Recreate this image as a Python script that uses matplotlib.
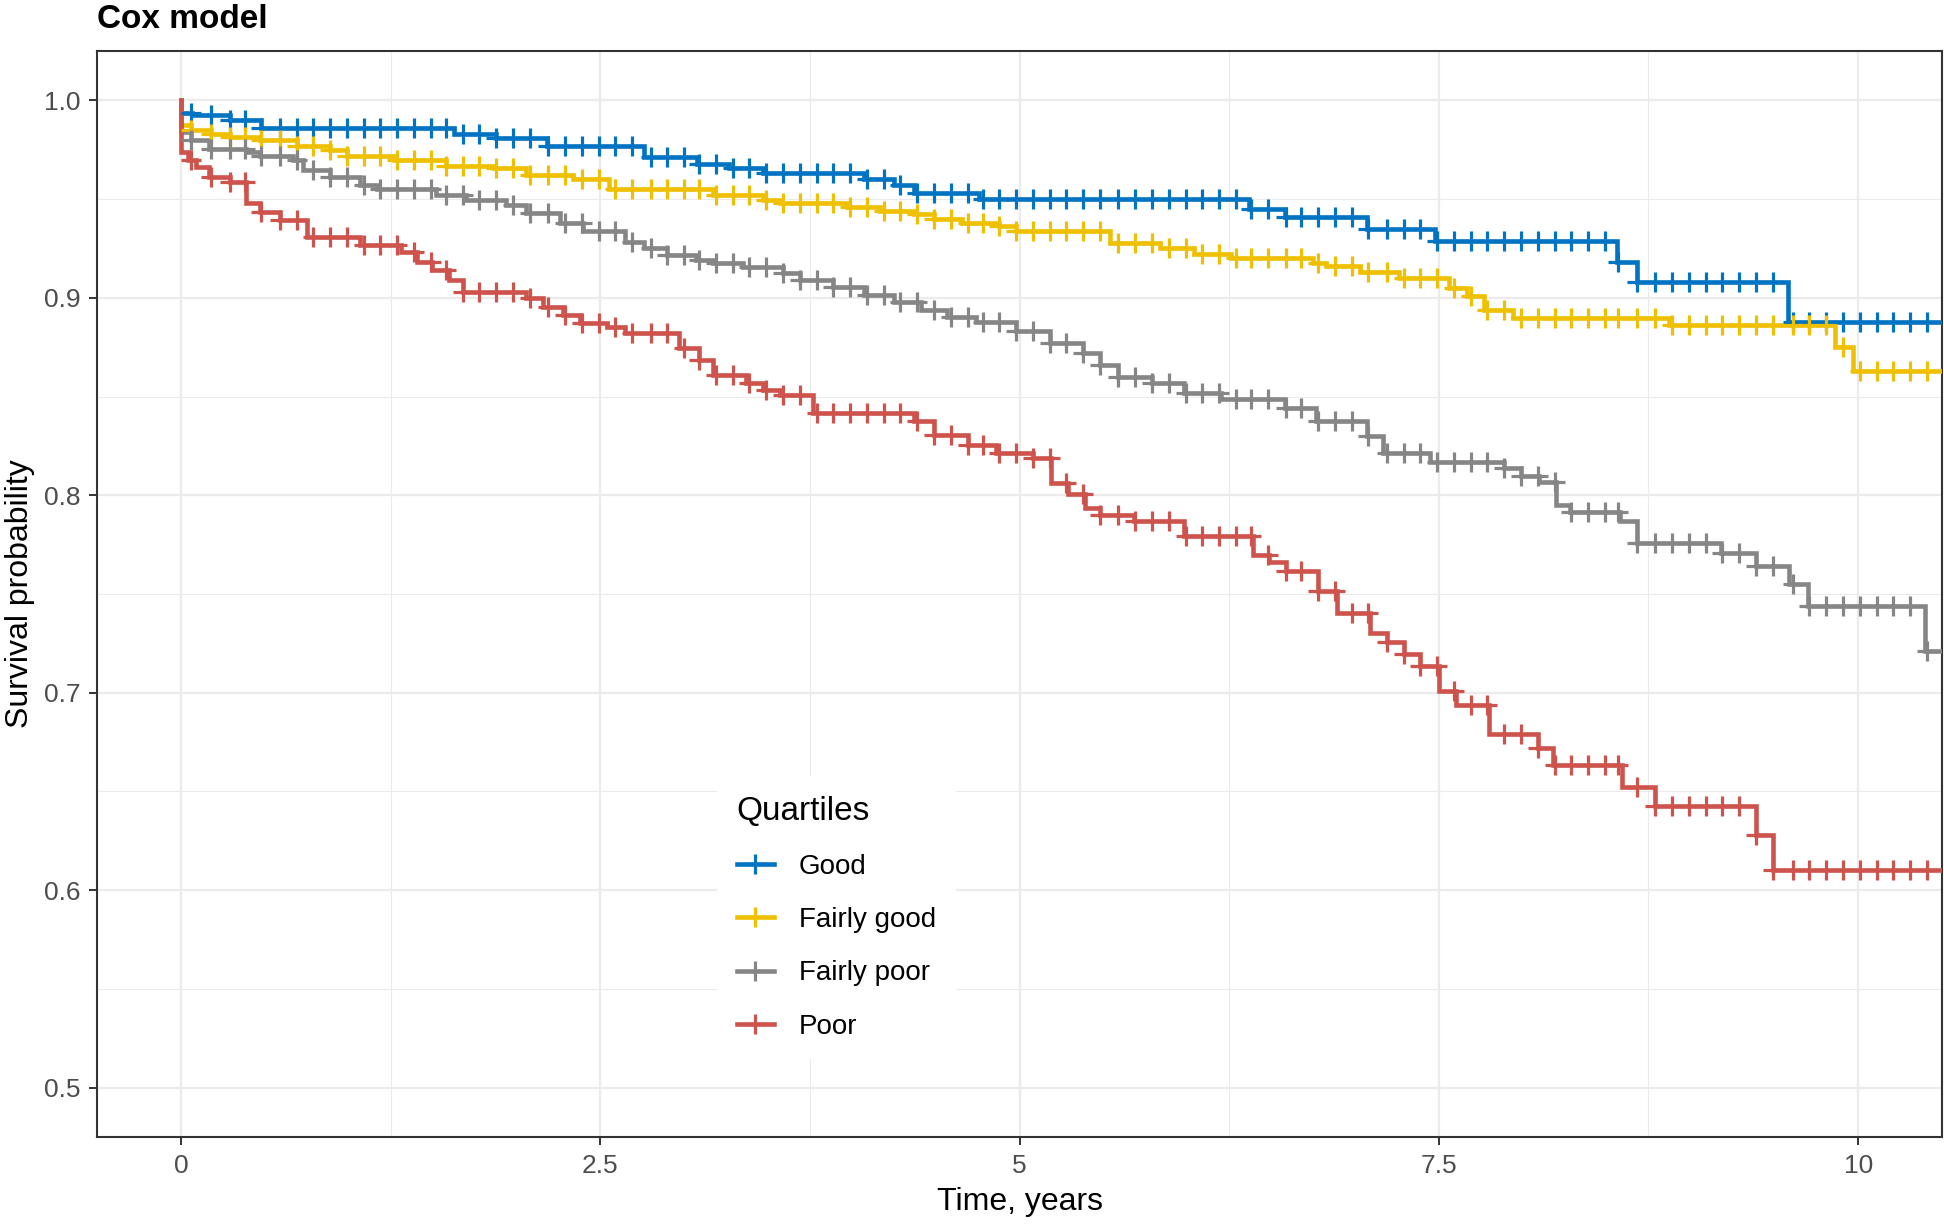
import numpy as np
import matplotlib
matplotlib.use("Agg")
import matplotlib.pyplot as plt
from matplotlib.lines import Line2D
from matplotlib.ticker import MultipleLocator

plt.rcParams['font.family'] = ['Liberation Sans', 'DejaVu Sans']

groups = ["Good", "Fairly good", "Fairly poor", "Poor"]
colors = ["#0073C2", "#EFC000", "#868686", "#CD534C"]

good_t = [0, 0, 0.064, 0.29, 0.48, 1.63, 1.88, 2.18, 2.76, 3.075, 3.27, 3.47, 4.07, 4.25,
          4.37, 4.76, 6.37, 6.58, 7.07, 7.48, 8.56, 8.68, 9.58]
good_s = [1.0, 0.9935, 0.9924, 0.990, 0.986, 0.983, 0.981, 0.977, 0.9714, 0.968, 0.9655,
          0.963, 0.960, 0.957, 0.953, 0.950, 0.945, 0.941, 0.935, 0.929, 0.918, 0.908, 0.888]

fgood_t = [0, 0, 0.06, 0.18, 0.29, 0.47, 0.69, 0.89, 0.99, 1.27, 1.58, 1.86, 2.06, 2.34, 2.55,
           3.17, 3.47, 3.57, 3.97, 4.17, 4.37, 4.49, 4.66, 4.88, 4.98, 5.54, 5.84, 6.04, 6.26,
           6.75, 6.83, 7.03, 7.26, 7.56, 7.67, 7.77, 7.94, 8.87, 9.86, 9.97]
fgood_s = [1.0, 0.9875, 0.985, 0.983, 0.9815, 0.980, 0.977, 0.975, 0.972, 0.970, 0.967, 0.9655,
           0.962, 0.960, 0.955, 0.952, 0.9495, 0.948, 0.946, 0.944, 0.9427, 0.940, 0.938, 0.9365,
           0.934, 0.9276, 0.925, 0.922, 0.920, 0.9175, 0.916, 0.913, 0.910, 0.905, 0.901, 0.894,
           0.890, 0.886, 0.875, 0.863]

fpoor_t = [0, 0, 0.06, 0.17, 0.39, 0.47, 0.67, 0.73, 0.89, 1.07, 1.17, 1.52, 1.70, 1.94, 2.06,
           2.26, 2.40, 2.65, 2.76, 2.90, 3.07, 3.17, 3.35, 3.59, 3.69, 3.89, 4.07, 4.25, 4.41,
           4.57, 4.74, 4.98, 5.18, 5.38, 5.48, 5.59, 5.79, 5.98, 6.20, 6.58, 6.77, 7.07, 7.17,
           7.45, 7.89, 7.99, 8.10, 8.20, 8.28, 8.58, 8.68, 9.18, 9.39, 9.59, 9.70, 10.40]
fpoor_s = [1.0, 0.984, 0.980, 0.9756, 0.974, 0.972, 0.970, 0.9646, 0.961, 0.957, 0.955, 0.952,
           0.9495, 0.947, 0.943, 0.9377, 0.934, 0.9284, 0.925, 0.9217, 0.9194, 0.9175, 0.9158,
           0.9124, 0.909, 0.9057, 0.9015, 0.898, 0.894, 0.8905, 0.888, 0.883, 0.877, 0.872,
           0.866, 0.860, 0.857, 0.852, 0.849, 0.844, 0.8375, 0.830, 0.8215, 0.817, 0.8136,
           0.810, 0.8068, 0.795, 0.7915, 0.787, 0.776, 0.771, 0.764, 0.755, 0.744, 0.721]

poor_t = [0, 0, 0.04, 0.09, 0.17, 0.29, 0.39, 0.47, 0.59, 0.75, 1.07, 1.31, 1.41, 1.50, 1.60,
          1.68, 2.06, 2.16, 2.28, 2.38, 2.54, 2.65, 2.97, 3.09, 3.17, 3.37, 3.47, 3.57, 3.77,
          4.37, 4.49, 4.69, 4.86, 5.08, 5.19, 5.29, 5.39, 5.48, 5.68, 5.98, 6.39, 6.49, 6.59,
          6.78, 6.89, 7.09, 7.19, 7.29, 7.39, 7.50, 7.60, 7.80, 8.09, 8.18, 8.59, 8.79, 9.39, 9.49]
poor_s = [1.0, 0.974, 0.9697, 0.9663, 0.961, 0.9587, 0.948, 0.9436, 0.9394, 0.931, 0.9267,
          0.9233, 0.918, 0.914, 0.909, 0.903, 0.900, 0.8956, 0.8914, 0.887, 0.885, 0.882,
          0.8745, 0.8686, 0.861, 0.857, 0.8535, 0.851, 0.8417, 0.8375, 0.8307, 0.8257, 0.8215,
          0.819, 0.8063, 0.8004, 0.7937, 0.790, 0.787, 0.7793, 0.770, 0.766, 0.7617, 0.7515,
          0.7406, 0.7305, 0.7255, 0.7196, 0.7137, 0.701, 0.694, 0.679, 0.672, 0.6636, 0.6525,
          0.6424, 0.628, 0.610]

# censoring times (marks), shared by the groups
censor_t = [0.06, 0.18, 0.29, 0.38, 0.48, 0.59, 0.69, 0.79, 0.89, 0.99, 1.09, 1.19, 1.29, 1.39,
            1.49, 1.58, 1.68, 1.78, 1.88, 1.98, 2.08, 2.19, 2.29, 2.39, 2.49, 2.59, 2.69, 2.80,
            2.90, 3.00, 3.09, 3.19, 3.29, 3.39, 3.49, 3.59, 3.69, 3.79, 3.89, 3.99, 4.09, 4.19,
            4.29, 4.39, 4.49, 4.59, 4.69, 4.78, 4.88, 4.98, 5.08, 5.18, 5.28, 5.38, 5.48, 5.59,
            5.69, 5.79, 5.89, 5.99, 6.09, 6.19, 6.29, 6.38, 6.48, 6.59, 6.68, 6.78, 6.88, 6.98,
            7.08, 7.19, 7.29, 7.39, 7.49, 7.59, 7.69, 7.79, 7.89, 7.99, 8.09, 8.19, 8.29, 8.39,
            8.49, 8.57, 8.68, 8.79, 8.89, 8.99, 9.09, 9.19, 9.29, 9.39, 9.49, 9.61, 9.71, 9.81,
            9.91, 10.01, 10.11, 10.21, 10.31, 10.41]

t_end = 10.5
curves = [(good_t, good_s), (fgood_t, fgood_s), (fpoor_t, fpoor_s), (poor_t, poor_s)]

LW = 3.3
MS = 15
MEW = 2.3

fig = plt.figure(figsize=(19.44, 12.28), dpi=100)
ax = fig.add_axes([97 / 1944, 91 / 1228, 1845 / 1944, 1086 / 1228])

ax.set_xlim(-0.5, 10.5)
ax.set_ylim(0.475, 1.025)
ax.xaxis.set_major_locator(MultipleLocator(2.5))
ax.xaxis.set_minor_locator(MultipleLocator(1.25))
ax.yaxis.set_major_locator(MultipleLocator(0.1))
ax.yaxis.set_minor_locator(MultipleLocator(0.05))
ax.set_xticks([0, 2.5, 5, 7.5, 10])
ax.set_xticklabels(["0", "2.5", "5", "7.5", "10"])
ax.set_yticks([0.5, 0.6, 0.7, 0.8, 0.9, 1.0])
ax.set_yticklabels(["0.5", "0.6", "0.7", "0.8", "0.9", "1.0"])
ax.grid(which='major', color='#EBEBEB', linewidth=1.6)
ax.grid(which='minor', color='#EBEBEB', linewidth=0.8)
ax.set_axisbelow(True)
ax.tick_params(which='minor', length=0)
ax.tick_params(which='major', length=6, width=1.4, color='#333333',
               labelsize=19, labelcolor='#4D4D4D', pad=6)
for sp in ax.spines.values():
    sp.set_color('#333333')
    sp.set_linewidth(1.5)

for (t, s), c in zip(curves, colors):
    tt = np.array(list(t) + [t_end])
    ss = np.array(list(s) + [s[-1]])
    ax.step(tt, ss, where='post', color=c, lw=LW, solid_joinstyle='miter', zorder=3)

for (t, s), c in zip(curves, colors):
    ct = np.array(censor_t)
    idx = np.searchsorted(np.array(t), ct, side='right') - 1
    cs = np.array(s)[idx]
    ax.plot(ct, cs, linestyle='none', marker='+', markersize=MS, mew=MEW, color=c, zorder=4)

ax.set_xlabel("Time, years", fontsize=23, labelpad=7)
ax.set_ylabel("Survival probability", fontsize=23, labelpad=6)
fig.text(97 / 1944, 1 - 28 / 1228, "Cox model", fontsize=24, fontweight='bold',
         ha='left', va='baseline')

handles = [Line2D([], [], color=c, lw=LW, marker='+', markersize=MS, mew=MEW) for c in colors]
leg = ax.legend(handles, groups, title="Quartiles", loc='upper left',
                bbox_to_anchor=(0.3286, 0.345), fontsize=20, title_fontsize=24,
                frameon=True, facecolor='white', edgecolor='none', framealpha=1,
                fancybox=False, handlelength=1.35, labelspacing=0.98, handletextpad=0.9,
                borderpad=0.7, alignment='left')
leg.set_zorder(5)

fig.savefig("out.png", dpi=100)
